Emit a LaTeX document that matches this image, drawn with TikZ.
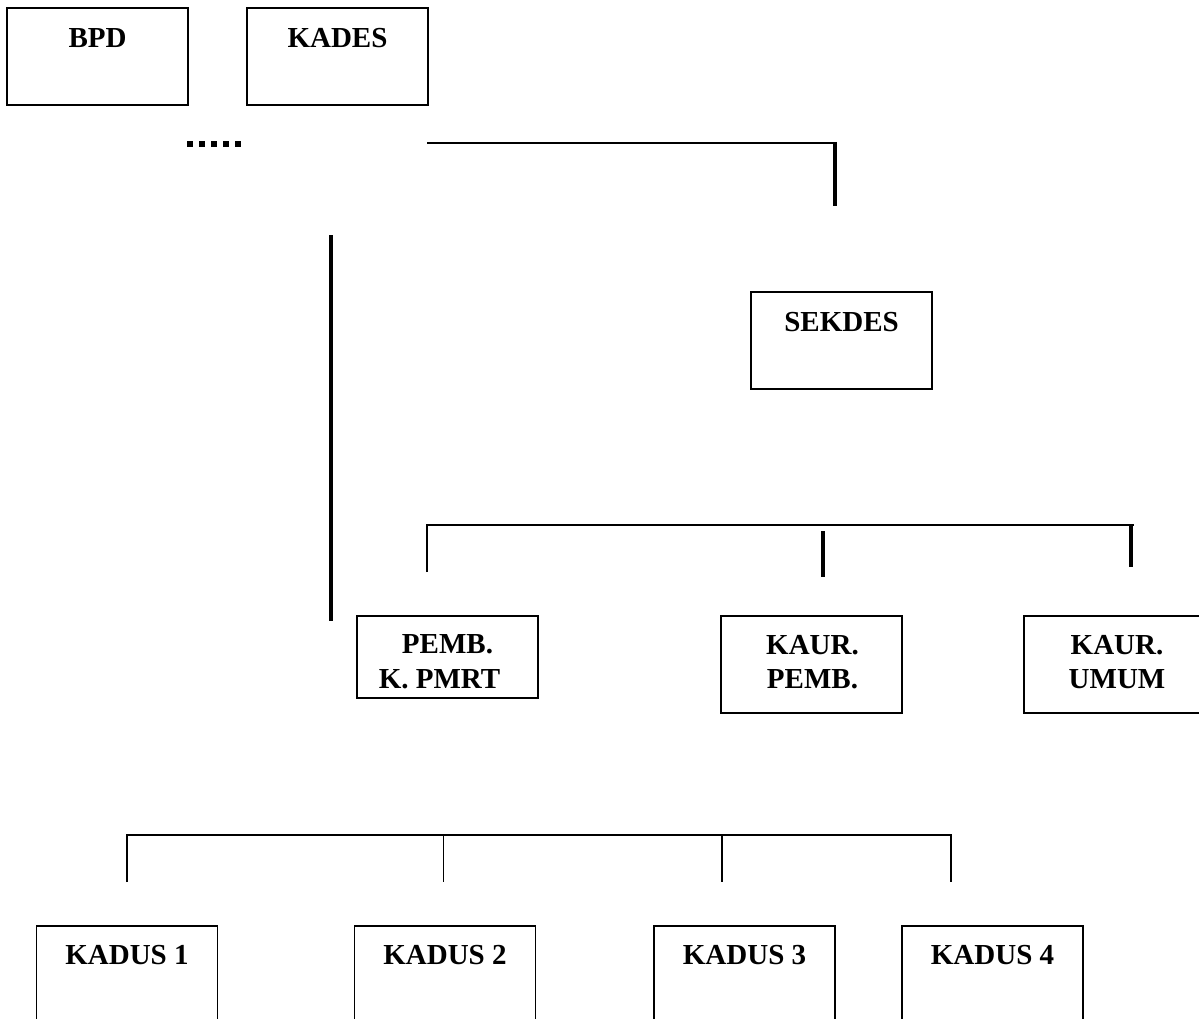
\documentclass[tikz,border=0pt]{standalone}
\usepackage{fontspec}
\setmainfont{Liberation Serif}
\tikzset{
  box/.style={draw, line width=1.6pt, minimum width=181pt, inner sep=0pt, outer sep=0pt},
  lbl/.style={font=\fontsize{29}{34.5}\selectfont\bfseries, inner sep=0pt, align=center},
  thinline/.style={line width=1.7pt},
  midline/.style={line width=2.5pt},
  thickline/.style={line width=4.4pt},
  dotline/.style={line width=6pt, dash pattern=on 6pt off 6pt}
}
\begin{document}
\begin{tikzpicture}[x=1pt,y=-1pt]
\useasboundingbox (0,0) rectangle (1199,1019);
\clip (0,0) rectangle (1199,1019);
\fill[white] (0,0) rectangle (1199,1019);

% top boxes
\node[box, minimum height=97pt] (bpd) at (97.5,56.5) {};
\node[lbl] (bpdt) at (97.5,38) {BPD};
\node[box, minimum height=97pt] (kades) at (337.5,56.5) {};
\node[lbl] (kadest) at (337.5,38) {KADES};

% sekdes
\node[box, minimum height=97pt] (sekdes) at (841.5,340.5) {};
\node[lbl] (sekdest) at (841.5,322.5) {SEKDES};

% middle row
\node[box, minimum height=82pt] (pemb) at (447.5,657) {};
\node[lbl] (pembt) at (447.5,661.5) {PEMB.\\K. PMRT\hspace*{16pt}};
\node[box, minimum height=97pt] (kaurp) at (811.5,664.5) {};
\node[lbl] (kaurpt) at (812.5,662) {KAUR.\\PEMB.};
\node[box, minimum height=97pt] (kauru) at (1114.5,664.5) {};
\node[lbl] (kaurut) at (1117,662) {KAUR.\\UMUM};

% bottom row
\node[box, minimum height=130pt] (k1) at (127,991) {};
\node[lbl] (k1t) at (127,955) {KADUS 1};
\node[box, minimum height=130pt] (k2) at (445,991) {};
\node[lbl] (k2t) at (445,955) {KADUS 2};
\node[box, minimum height=130pt] (k3) at (744.5,991) {};
\node[lbl] (k3t) at (744.5,955) {KADUS 3};
\node[box, minimum height=130pt] (k4) at (992.5,991) {};
\node[lbl] (k4t) at (992.5,955) {KADUS 4};

% dotted segment
\coordinate (d1) at (187,144);
\coordinate (d2) at (242,144);
\draw[dotline] (d1) -- (d2);

% upper connector
\coordinate (u1) at (427,143);
\coordinate (u2) at (837,143);
\coordinate (u3) at (835,141.8);
\coordinate (u4) at (835,206);
\draw[midline] (u1) -- (u2);
\draw[thickline] (u3) -- (u4);

% long vertical
\coordinate (v1) at (331,235);
\coordinate (v2) at (331,621);
\draw[thickline] (v1) -- (v2);

% middle connector
\coordinate (m1) at (427,525);
\coordinate (m2) at (1134,525);
\coordinate (m3) at (427,572);
\coordinate (m4) at (823,531);
\coordinate (m5) at (823,577);
\coordinate (m6) at (1131,524);
\coordinate (m7) at (1131,567);
\draw[thinline] (m3) -- (m1) -- (m2);
\draw[thickline] (m4) -- (m5);
\draw[thickline] (m6) -- (m7);

% bottom connector
\coordinate (b1) at (127,882);
\coordinate (b2) at (127,835);
\coordinate (b3) at (951,835);
\coordinate (b4) at (951,882);
\coordinate (b5) at (443.6,835);
\coordinate (b6) at (443.6,882);
\coordinate (b7) at (722,835);
\coordinate (b8) at (722,882);
\draw[thinline] (b1) -- (b2) -- (b3) -- (b4);
\draw[thinline] (b5) -- (b6);
\draw[thinline] (b7) -- (b8);
\end{tikzpicture}
\end{document}
